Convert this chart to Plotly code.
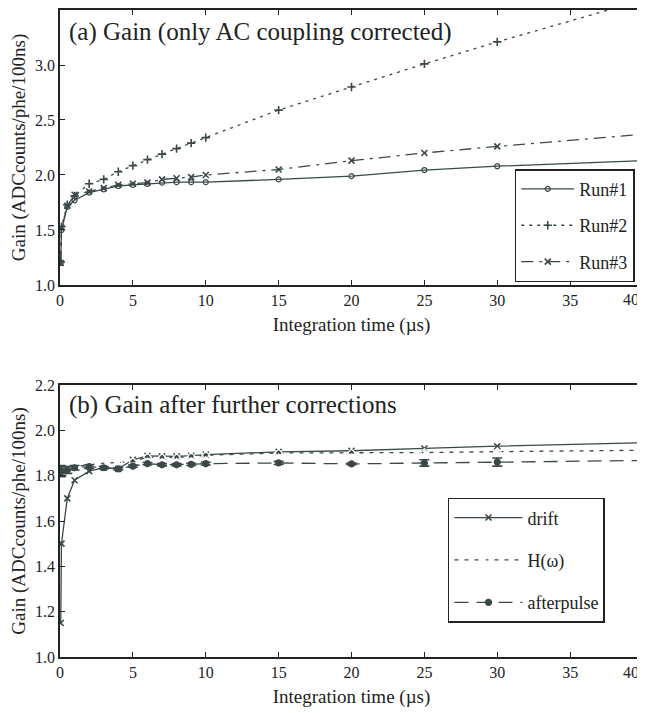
import plotly.graph_objects as go
from plotly.subplots import make_subplots

# ---- data ----
x_time = [0.05, 0.1, 0.5, 1, 2, 3, 4, 5, 6, 7, 8, 9, 10, 15, 20, 25, 30, 40]

run1 = [1.20, 1.50, 1.71, 1.77, 1.84, 1.87, 1.90, 1.91, 1.92, 1.93, 1.935, 1.935, 1.935, 1.96, 1.99, 2.045, 2.08, 2.13]
run2 = [1.21, 1.53, 1.73, 1.81, 1.92, 1.96, 2.03, 2.085, 2.14, 2.19, 2.24, 2.29, 2.34, 2.59, 2.80, 3.01, 3.21, 3.59]
run3 = [1.20, 1.52, 1.72, 1.82, 1.85, 1.88, 1.91, 1.92, 1.93, 1.96, 1.97, 1.98, 2.00, 2.05, 2.13, 2.20, 2.26, 2.37]

drift = [1.15, 1.50, 1.70, 1.78, 1.82, 1.835, 1.83, 1.87, 1.887, 1.885, 1.885, 1.888, 1.893, 1.905, 1.91, 1.92, 1.93, 1.945]
h_omega = [1.83, 1.83, 1.835, 1.84, 1.848, 1.855, 1.858, 1.862, 1.882, 1.88, 1.88, 1.885, 1.89, 1.90, 1.90, 1.902, 1.906, 1.912]
afterpulse = [1.82, 1.82, 1.825, 1.835, 1.84, 1.835, 1.83, 1.842, 1.853, 1.848, 1.848, 1.85, 1.853, 1.856, 1.852, 1.856, 1.86, 1.867]
afterpulse_err = [0.025, 0.02, 0.015, 0.01, 0.008, 0.005, 0.005, 0.005, 0.005, 0.005, 0.005, 0.005, 0.006, 0.007, 0.004, 0.014, 0.018, 0.006]

x_ticks = [0, 5, 10, 15, 20, 25, 30, 35, 40]

title_a = "(a) Gain (only AC coupling corrected)"
title_b = "(b) Gain after further corrections"
x_title = "Integration time (µs)"
y_title = "Gain (ADCcounts/phe/100ns)"

# ---- style ----
C = "#3b4849"
AX = "#222222"
FONT = "Liberation Serif, Times New Roman, serif"

fig = make_subplots(rows=2, cols=1, vertical_spacing=0.1546)

def add(x, y, name, dash, symbol, size, legend, group, row, err=None, mline=1.2, fill=None):
    fig.add_trace(go.Scatter(
        x=x, y=y, name=name, mode="lines+markers",
        line=dict(color=C, width=1.3, dash=dash),
        marker=dict(symbol=symbol, size=size, color=fill if fill else C,
                    line=dict(color=C, width=mline)),
        error_y=(dict(type="data", array=err, visible=True, color=C, thickness=1.6, width=5)
                 if err is not None else None),
        legend=legend, legendgroup=group, showlegend=True,
    ), row=row, col=1)

add(x_time, run1, "Run#1", "solid", "circle-open", 5, "legend", "g1", 1)
add(x_time, run2, "Run#2", "3px,5px", "cross-thin", 6, "legend", "g2", 1, mline=1.6)
add(x_time, run3, "Run#3", "12px,6px,3px,6px", "x-thin", 6, "legend", "g3", 1, mline=1.6)

add(x_time, drift, "drift", "solid", "x-thin", 6, "legend2", "d1", 2, mline=1.6)
add(x_time, h_omega, "H(ω)", "4px,6px", "diamond-open", 6, "legend2", "d2", 2, fill="white")
add(x_time, afterpulse, "afterpulse", "14px,8px", "circle", 6, "legend2", "d3", 2, err=afterpulse_err)

TICKFONT = dict(family=FONT, size=16, color="#222")
axis_common = dict(
    showline=True, linecolor=AX, linewidth=1.5, mirror="ticks",
    ticks="inside", ticklen=5, tickwidth=1.2, tickcolor=AX,
    showgrid=False, zeroline=False, automargin=False,
    tickfont=TICKFONT,
)

# last x label is drawn as an annotation so it stays inside the page
x_ticktext = [str(v) for v in x_ticks[:-1]] + [""]

fig.update_xaxes(**axis_common, range=[0, 40], tickvals=x_ticks, ticktext=x_ticktext,
                 title=dict(text=x_title, font=dict(family=FONT, size=19, color="#222"), standoff=10))
fig.update_yaxes(**axis_common,
                 title=dict(text=y_title, font=dict(family=FONT, size=19, color="#222"), standoff=4))
fig.update_yaxes(range=[1.0, 3.5], dtick=0.5, tickformat=".1f", row=1, col=1)
fig.update_yaxes(range=[1.0, 2.2], dtick=0.2, tickformat=".1f", row=2, col=1)

annots = [
    dict(text=title_a, xref="x domain", yref="y domain", x=0.012, y=0.92,
         xanchor="left", yanchor="middle", showarrow=False,
         font=dict(family=FONT, size=25, color="#222")),
    dict(text=title_b, xref="x2 domain", yref="y2 domain", x=0.012, y=0.926,
         xanchor="left", yanchor="middle", showarrow=False,
         font=dict(family=FONT, size=25, color="#222")),
]
for xr, yr in (("x", "y domain"), ("x2", "y2 domain")):
    annots.append(dict(text=str(x_ticks[-1]), xref=xr, yref=yr, x=x_ticks[-1], y=0,
                       xanchor="center", yanchor="middle", xshift=-12, yshift=-15,
                       showarrow=False, font=TICKFONT))

# the page body adds an 8px offset; margins compensate so the plot areas land in place
fig.update_layout(
    width=645, height=713,
    margin=dict(l=52, r=10, t=2, b=64),
    paper_bgcolor="white", plot_bgcolor="white",
    font=dict(family=FONT, color="#222"),
    yaxis=dict(domain=[0.575, 1.0]),
    yaxis2=dict(domain=[0.0, 0.4204]),
    legend=dict(x=0.78, y=0.754, xanchor="left", yanchor="top",
                bordercolor=AX, borderwidth=1.5, bgcolor="white",
                font=dict(family=FONT, size=18, color="#222"),
                itemwidth=53, tracegroupgap=10, traceorder="grouped"),
    legend2=dict(x=0.6655, y=0.246, xanchor="left", yanchor="top",
                 bordercolor=AX, borderwidth=1.5, bgcolor="white",
                 font=dict(family=FONT, size=18, color="#222"),
                 itemwidth=68, tracegroupgap=16, traceorder="grouped"),
    annotations=annots,
)

fig.write_html("out.html")
